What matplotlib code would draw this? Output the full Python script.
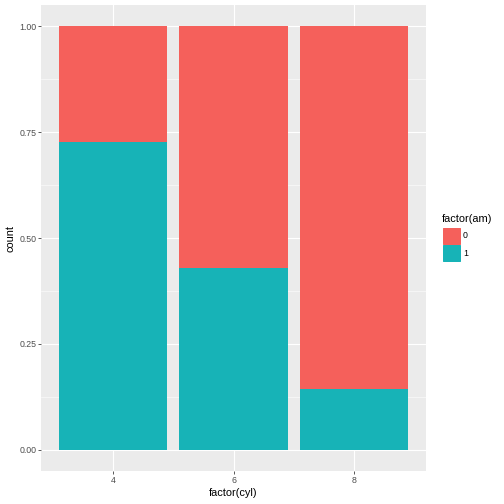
import matplotlib
matplotlib.use('Agg')
import matplotlib.pyplot as plt
import numpy as np

plt.rcParams['font.family'] = ['Liberation Sans', 'DejaVu Sans']

# mtcars counts by cylinder and transmission
cyl_levels = ['4', '6', '8']
am0_counts = np.array([3, 4, 12])
am1_counts = np.array([8, 3, 2])
legend_labels = ['0', '1']

total = am0_counts + am1_counts
am1_frac = am1_counts / total
am0_frac = am0_counts / total

red = '#F5605B'
teal = '#17B3B7'

fig = plt.figure(figsize=(7, 7), dpi=72)
ax = fig.add_axes([41 / 504, 33 / 504, 385 / 504, 466 / 504])
ax.set_facecolor('#EBEBEB')

x = np.arange(1, len(cyl_levels) + 1)
ax.set_xlim(0.4, 3.6)
ax.set_ylim(-0.05, 1.05)

# grid
for v in np.arange(0.125, 1.0, 0.25):
    ax.axhline(v, color='white', lw=0.55, zorder=0)
for v in np.arange(0, 1.01, 0.25):
    ax.axhline(v, color='white', lw=1.1, zorder=0)
for v in x:
    ax.axvline(v, color='white', lw=1.1, zorder=0)

ax.bar(x, am1_frac, width=0.9, color=teal, zorder=2)
ax.bar(x, am0_frac, width=0.9, bottom=am1_frac, color=red, zorder=2)

ax.set_xticks(x)
ax.set_xticklabels(cyl_levels)
ax.set_yticks(np.arange(0, 1.01, 0.25))
ax.set_yticklabels(['0.00', '0.25', '0.50', '0.75', '1.00'])
ax.tick_params(colors='#333333', labelsize=8.8, length=2.75, width=0.8,
               pad=2, labelcolor='#4D4D4D')
for s in ax.spines.values():
    s.set_visible(False)

ax.set_xlabel('factor(cyl)', fontsize=11, labelpad=3)
ax.set_ylabel('count', fontsize=11, labelpad=4)

# legend
fig.text(442 / 504, 1 - 219 / 504, 'factor(am)', fontsize=11, va='center', ha='left')
for i, (lab, col) in enumerate(zip(legend_labels, [red, teal])):
    y0 = 1 - (244 + i * 17.3) / 504
    fig.patches.append(plt.Rectangle((443 / 504, y0), 16.5 / 504, 16.5 / 504,
                                     transform=fig.transFigure, color=col))
    fig.text(463 / 504, y0 + 8.2 / 504, lab, fontsize=8.8, va='center', ha='left')

fig.savefig('out.png', dpi=72)
